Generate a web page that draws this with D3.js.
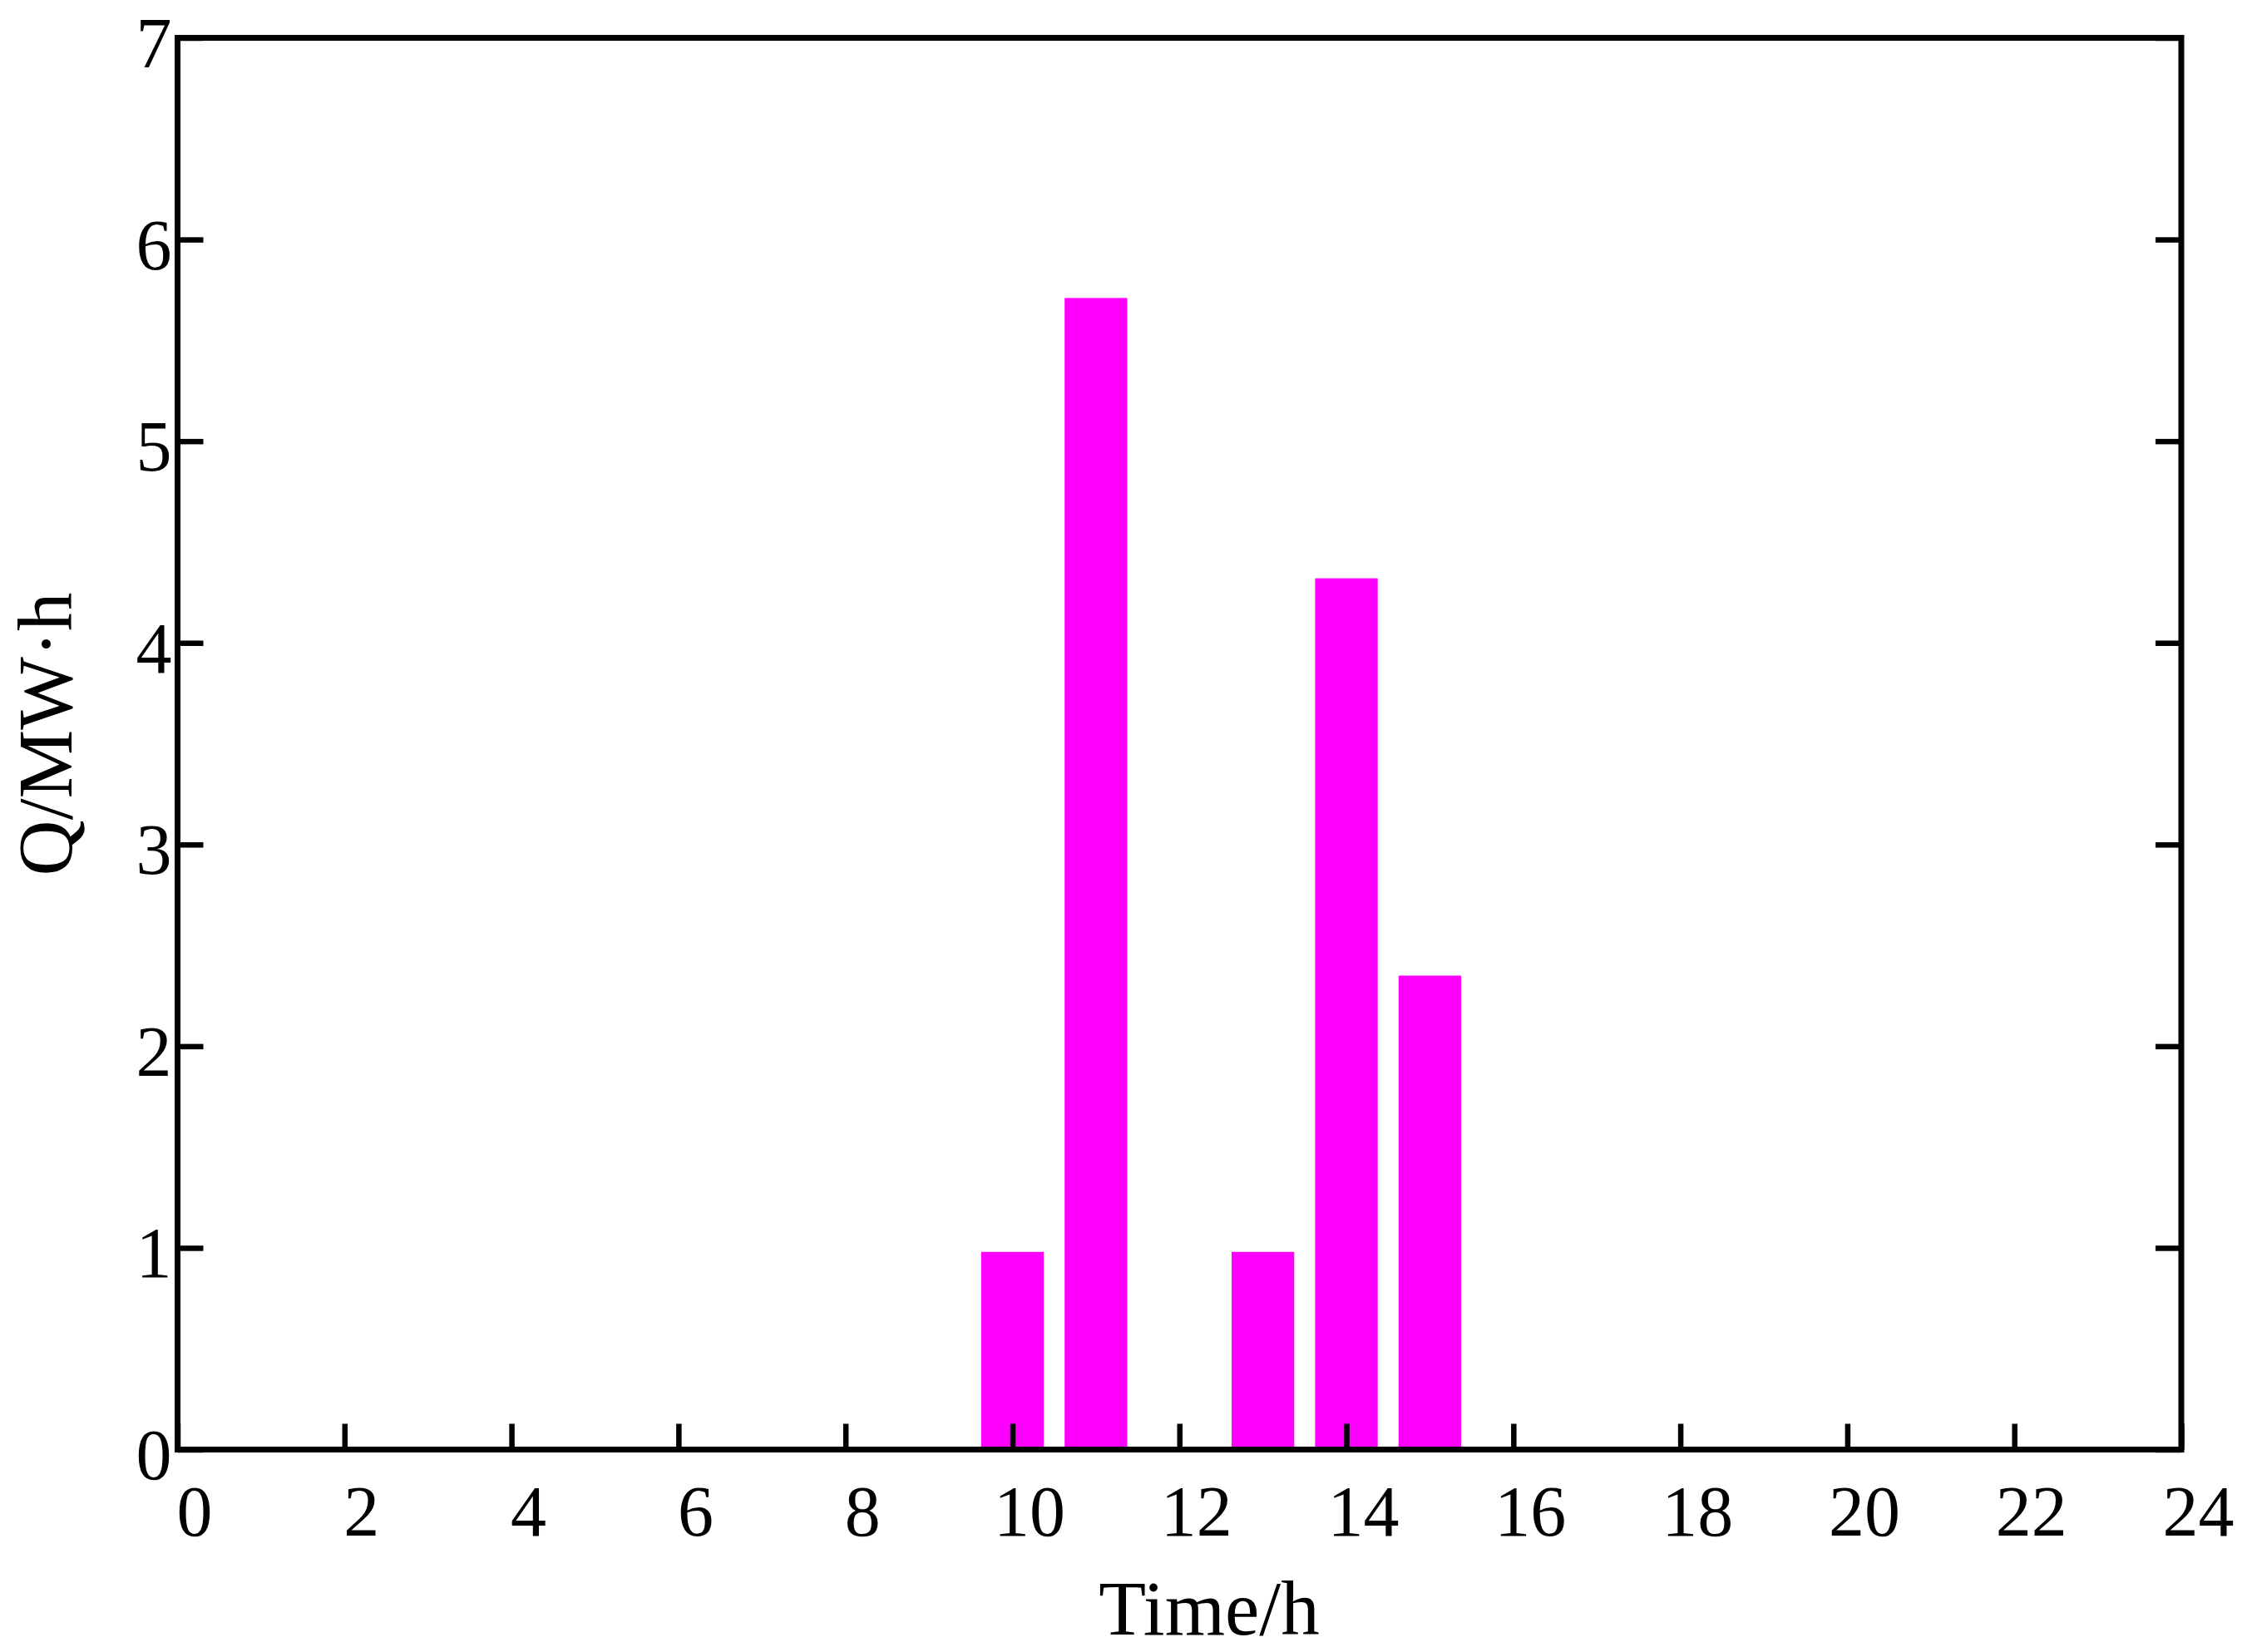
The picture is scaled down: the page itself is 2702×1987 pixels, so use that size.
<!DOCTYPE html>
<html>
  <head>
    <meta charset="utf-8">
    <title>Q per hour</title>
    <style>
      body { margin: 0; background: #fff; }
      text { font-family: "Liberation Serif", "Times New Roman", serif; fill: #000; }
    </style>
  </head>
  <body>
    <div id="chart"></div>
    <script src="https://cdn.jsdelivr.net/npm/d3@7"></script>
    <script>
      // data
      var hours  = [1, 2, 3, 4, 5, 6, 7, 8, 9, 10, 11, 12, 13, 14, 15, 16, 17, 18, 19, 20, 21, 22, 23, 24];
      var values = [0, 0, 0, 0, 0, 0, 0, 0, 0, 0.98, 5.71, 0, 0.98, 4.32, 2.35, 0, 0, 0, 0, 0, 0, 0, 0, 0];
      var xTicks = [0, 2, 4, 6, 8, 10, 12, 14, 16, 18, 20, 22, 24];
      var yTicks = [0, 1, 2, 3, 4, 5, 6, 7];

      (function(d3) {
        'use strict';

        var width = 2702, height = 1987;
        var plotLeft = 213.5, plotRight = 2623, plotTop = 45.5, plotBottom = 1743.5;
        var barWidth = 0.75;     // in hours
        var tickLen = 31;

        var x = d3.scaleLinear().domain([0, 24]).range([plotLeft, plotRight]);
        var y = d3.scaleLinear().domain([0, 7]).range([plotBottom, plotTop]);

        var svg = d3.select('#chart').append('svg')
          .attr('width', width)
          .attr('height', height);

        // bars
        svg.selectAll('rect.bar')
          .data(hours)
          .enter().append('rect')
          .attr('class', 'bar')
          .attr('x', function(d) { return x(d - barWidth / 2); })
          .attr('width', function() { return x(barWidth) - x(0); })
          .attr('y', function(d, i) { return y(values[i]); })
          .attr('height', function(d, i) { return y(0) - y(values[i]); })
          .attr('fill', '#ff00ff');

        // bottom axis, ticks pointing in
        var gx = svg.append('g')
          .attr('transform', 'translate(0,' + plotBottom + ')')
          .call(d3.axisBottom(x).tickValues(xTicks).tickSize(-tickLen).tickSizeOuter(0).tickFormat(d3.format('d')));
        gx.selectAll('text')
          .attr('y', 103)
          .attr('dy', 0)
          .attr('dx', 20)
          .style('font-size', '86px');

        // left axis
        var gy = svg.append('g')
          .attr('transform', 'translate(' + plotLeft + ',0)')
          .call(d3.axisLeft(y).tickValues(yTicks).tickSize(-tickLen).tickSizeOuter(0).tickFormat(d3.format('d')));
        gy.selectAll('text')
          .attr('x', -7)
          .attr('dy', 35)
          .style('font-size', '86px');

        // right axis, ticks only
        svg.append('g')
          .attr('transform', 'translate(' + plotRight + ',0)')
          .call(d3.axisRight(y).tickValues(yTicks).tickSize(-tickLen).tickSizeOuter(0).tickFormat(''));

        svg.selectAll('.domain').remove();
        svg.selectAll('.tick line')
          .attr('stroke', '#000')
          .attr('stroke-width', 6.5);

        // frame
        svg.append('rect')
          .attr('x', plotLeft)
          .attr('y', plotTop)
          .attr('width', plotRight - plotLeft)
          .attr('height', plotBottom - plotTop)
          .attr('fill', 'none')
          .attr('stroke', '#000')
          .attr('stroke-width', 7);

        // axis titles
        svg.append('text')
          .attr('x', 1454)
          .attr('y', 1966)
          .attr('text-anchor', 'middle')
          .style('font-size', '93px')
          .text('Time/h');

        svg.append('text')
          .attr('transform', 'translate(86,883) rotate(-90)')
          .attr('text-anchor', 'middle')
          .style('font-size', '93px')
          .text('Q/MW\u00b7h');
      })(window.d3);
    </script>
  </body>
</html>
